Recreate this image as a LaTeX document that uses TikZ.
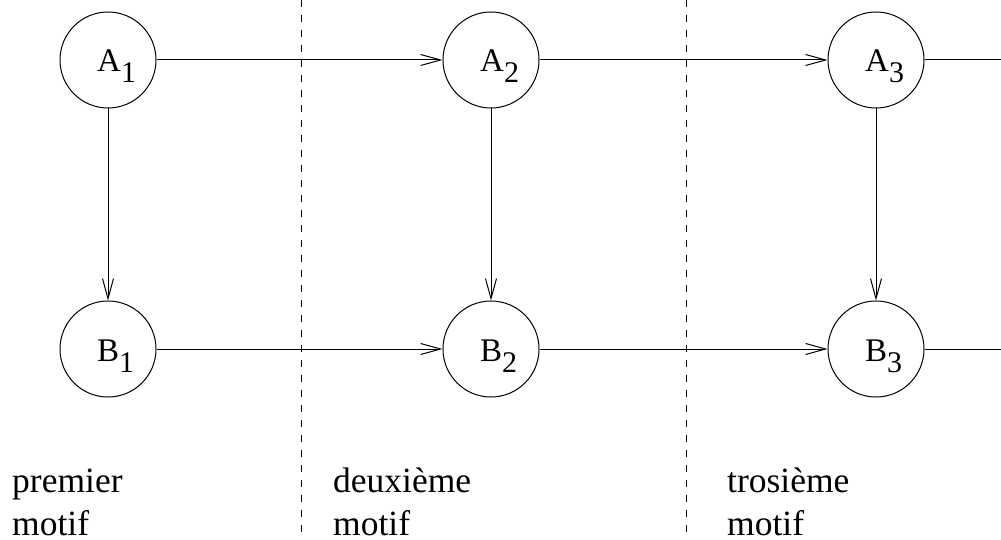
\documentclass[tikz,border=0pt]{standalone}
\usepackage{fontspec}
\setmainfont{Liberation Serif}
\newfontfamily\timesf{Liberation Serif}
\usetikzlibrary{arrows.meta}
\begin{document}
\begin{tikzpicture}[x=1pt,y=-1pt,
  state/.style={draw,circle,line width=1pt,minimum size=96pt,inner sep=0pt},
  lab/.style={anchor=base west,inner sep=0pt,font=\timesf\fontsize{33}{36}\selectfont},
  caption/.style={anchor=base west,inner sep=0pt,text depth=0pt,font=\timesf\fontsize{35.5}{43}\selectfont},
  conn/.style={line width=1pt,-{Straight Barb[length=20pt,width=11pt,line width=1pt]}},
  plain/.style={line width=1pt},
  sep/.style={line width=1pt,dash pattern=on 7pt off 8pt}]
\useasboundingbox (0,0) rectangle (1001,540);
\node[state] (A1) at (108,60) {};
\node[state] (A2) at (491,60) {};
\node[state] (A3) at (876,60) {};
\node[state] (B1) at (108,349) {};
\node[state] (B2) at (491,349) {};
\node[state] (B3) at (876,349) {};
\foreach \n/\t/\s in {A1/A/1,A2/A/2,A3/A/3,B1/B/1,B2/B/2,B3/B/3}{
  \node[lab] (L\n) at ([xshift=-11pt,yshift=-12pt]\n.center) {\t\raisebox{-11pt}{\fontsize{30}{32}\selectfont\s}};
}
\coordinate (EA) at (1001,60);
\coordinate (EB) at (1001,349);
\draw[conn] (A1) -- (A2);
\draw[conn] (A2) -- (A3);
\draw[plain] (A3) -- (EA);
\draw[conn] (B1) -- (B2);
\draw[conn] (B2) -- (B3);
\draw[plain] (B3) -- (EB);
\draw[conn] (A1) -- (B1);
\draw[conn] (A2) -- (B2);
\draw[conn] (A3) -- (B3);
\coordinate (S1t) at (301,0);
\coordinate (S1b) at (301,540);
\coordinate (S2t) at (686,0);
\coordinate (S2b) at (686,540);
\draw[sep] (S1t) -- (S1b);
\draw[sep] (S2t) -- (S2b);
\node[caption] (T1a) at (12,492) {premier};
\node[caption] (T1b) at (12,535) {motif};
\node[caption] (T2a) at (333,492) {deuxième};
\node[caption] (T2b) at (333,535) {motif};
\node[caption] (T3a) at (727,492) {trosième};
\node[caption] (T3b) at (727,535) {motif};
\end{tikzpicture}
\end{document}
